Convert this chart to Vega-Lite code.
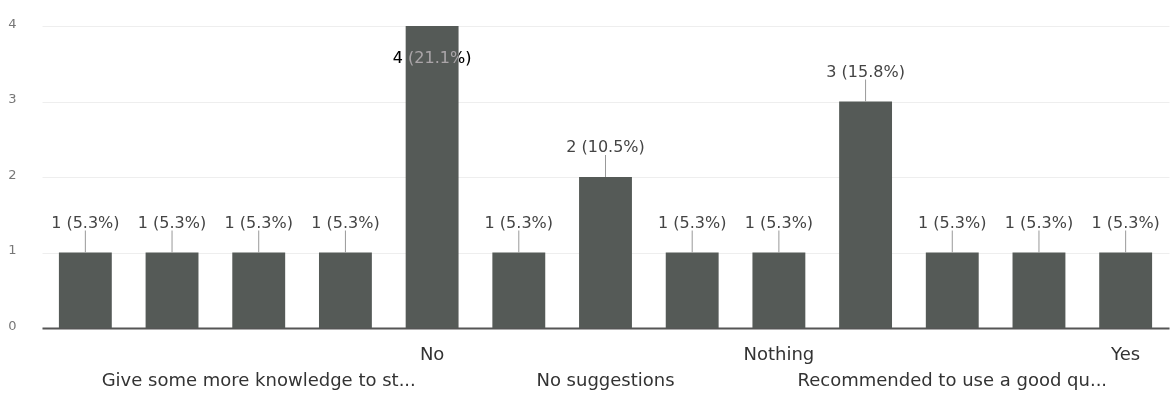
{
  "$schema": "https://vega.github.io/schema/vega-lite/v6.json",
  "width": 1127,
  "height": 302,
  "autosize": "none",
  "padding": {"left": 42, "top": 26, "right": 4, "bottom": 78},
  "background": "white",
  "config": {"view": {"stroke": null}, "font": "DejaVu Sans"},
  "data": {
    "values": [
      {"answer": "All good", "count": 1, "label": "1 (5.3%)"},
      {"answer": "Fine", "count": 1, "label": "1 (5.3%)"},
      {"answer": "Give some more knowledge to st...", "count": 1, "label": "1 (5.3%)"},
      {"answer": "Good", "count": 1, "label": "1 (5.3%)"},
      {"answer": "No", "count": 4, "label": "4 (21.1%)"},
      {"answer": "No comments", "count": 1, "label": "1 (5.3%)"},
      {"answer": "No suggestions", "count": 2, "label": "2 (10.5%)"},
      {"answer": "Nope", "count": 1, "label": "1 (5.3%)"},
      {"answer": "Nothing", "count": 1, "label": "1 (5.3%)"},
      {"answer": "Nothing to say", "count": 3, "label": "3 (15.8%)"},
      {"answer": "Recommended to use a good qu...", "count": 1, "label": "1 (5.3%)"},
      {"answer": "Very good", "count": 1, "label": "1 (5.3%)"},
      {"answer": "Yes", "count": 1, "label": "1 (5.3%)"}
    ]
  },
  "encoding": {
    "x": {
      "field": "answer",
      "type": "nominal",
      "sort": null,
      "scale": {"paddingInner": 0.39, "paddingOuter": 0.195},
      "axis": {
        "title": null,
        "labelAngle": 0,
        "ticks": false,
        "domainColor": "#555555",
        "domainWidth": 2,
        "labelPadding": 17,
        "labelFontSize": 18,
        "labelColor": "#333333",
        "labelLineHeight": 26,
        "labelBaseline": "top",
        "labelLimit": 400,
        "labelOverlap": false,
        "labelExpr": "indexof(['No','Nothing','Yes'], datum.label) >= 0 ? datum.label : (indexof(['Give some more knowledge to st...','No suggestions','Recommended to use a good qu...'], datum.label) >= 0 ? ['', datum.label] : '')"
      }
    }
  },
  "layer": [
    {
      "mark": {"type": "bar", "color": "#555a57"},
      "encoding": {
        "y": {
          "field": "count",
          "type": "quantitative",
          "scale": {"domain": [0, 4]},
          "axis": {
            "title": null,
            "values": [0, 1, 2, 3, 4],
            "format": "d",
            "domain": false,
            "ticks": false,
            "grid": true,
            "gridColor": "#eeeeee",
            "labelColor": "#777777",
            "labelFontSize": 13,
            "labelPadding": 26,
            "labelOffset": -3
          }
        }
      }
    },
    {
      "transform": [{"filter": "datum.count < 4"}],
      "mark": {"type": "rule", "color": "#999999", "strokeWidth": 1, "y2Offset": -22},
      "encoding": {
        "y": {"field": "count", "type": "quantitative"},
        "y2": {"field": "count"}
      }
    },
    {
      "transform": [{"filter": "datum.count < 4"}],
      "mark": {"type": "text", "dy": -30, "fontSize": 16, "color": "#444444"},
      "encoding": {
        "y": {"field": "count", "type": "quantitative"},
        "text": {"field": "label"}
      }
    },
    {
      "transform": [{"filter": "datum.count == 4"}],
      "mark": {"type": "text", "dy": 32, "fontSize": 16, "color": "white", "blend": "difference"},
      "encoding": {
        "y": {"field": "count", "type": "quantitative"},
        "text": {"field": "label"}
      }
    }
  ]
}
